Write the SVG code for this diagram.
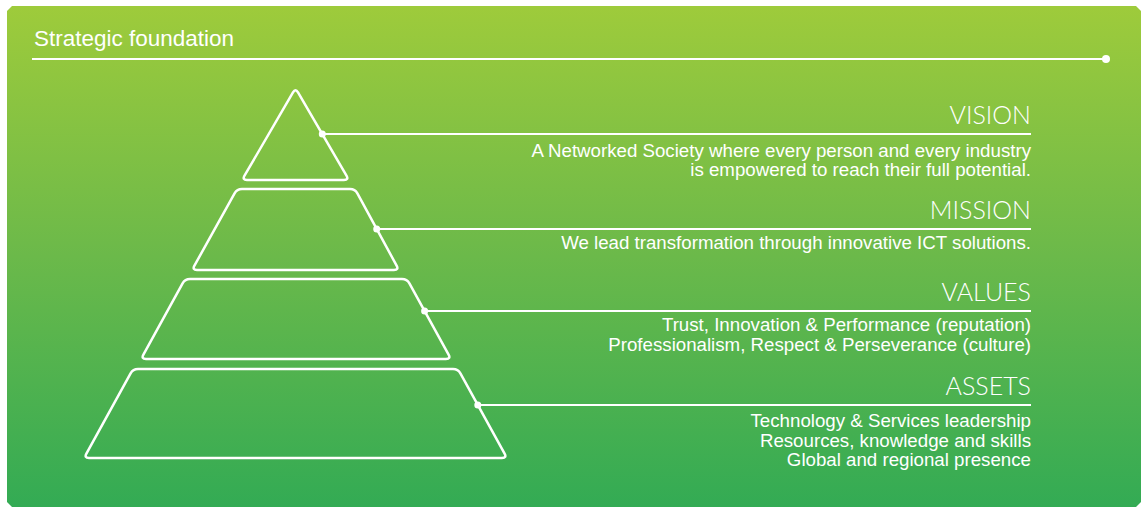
<svg xmlns="http://www.w3.org/2000/svg" width="1143" height="509" viewBox="0 0 1143 509">
  <defs>
    <linearGradient id="bg" x1="0" y1="0" x2="0" y2="1">
      <stop offset="0" stop-color="#9ecb3b"/>
      <stop offset="0.5" stop-color="#6bb94a"/>
      <stop offset="1" stop-color="#33ab54"/>
    </linearGradient>
    <style>
      .shape { fill: none; stroke: #ffffff; stroke-width: 2.5; stroke-linejoin: round; }
      .conn { stroke: #ffffff; stroke-width: 2; fill: none; }
      .dot { fill: #ffffff; }
      .title { font-family: "Liberation Sans", Arial, sans-serif; font-size: 22.5px; fill: #ffffff; }
      .head { font-family: Lato, "Open Sans", sans-serif; font-weight: 300; font-size: 25px; fill: #ffffff; text-anchor: end; }
      .body { font-family: "Liberation Sans", Arial, sans-serif; font-size: 18.7px; fill: #ffffff; text-anchor: end; }
    </style>
  </defs>

  <polygon id="background" points="12,6 1136,6 1141,11 1141,502 1136,507 12,507 7,502 7,11" fill="url(#bg)"/>

  <g id="title">
    <text class="title" x="34" y="46">Strategic foundation</text>
    <line class="conn" x1="32" y1="59" x2="1106" y2="59"/>
    <circle class="dot" cx="1106" cy="59" r="4"/>
  </g>

  <g id="vision">
    <path class="shape" d="M298.01,92.32 L346.49,175.68 Q349,180 344,180 L247,180 Q242,180 244.51,175.68 L292.99,92.32 Q295.5,88 298.01,92.32 Z"/>
    <text class="head" x="1031" y="124">VISION</text>
    <text class="body" x="1031" y="157">A Networked Society where every person and every industry</text>
    <text class="body" x="1031" y="176">is empowered to reach their full potential.</text>
  </g>

  <g id="mission">
    <path class="shape" d="M242,189 L350,189 Q355,189 357.39,193.39 L396.61,265.61 Q399,270 394,270 L197,270 Q192,270 194.43,265.63 L234.57,193.37 Q237,189 242,189 Z"/>
    <text class="head" x="1031" y="219">MISSION</text>
    <text class="body" x="1031" y="249">We lead transformation through innovative ICT solutions.</text>
  </g>

  <g id="values">
    <path class="shape" d="M190,279 L402,279 Q407,279 409.41,283.38 L448.59,354.62 Q451,359 446,359 L146,359 Q141,359 143.41,354.62 L182.59,283.38 Q185,279 190,279 Z"/>
    <text class="head" x="1031" y="301">VALUES</text>
    <text class="body" x="1031" y="331">Trust, Innovation &amp; Performance (reputation)</text>
    <text class="body" x="1031" y="351">Professionalism, Respect &amp; Perseverance (culture)</text>
  </g>

  <g id="assets">
    <path class="shape" d="M138,369 L453,369 Q458,369 460.41,373.38 L504.59,453.62 Q507,458 502,458 L89,458 Q84,458 86.41,453.62 L130.59,373.38 Q133,369 138,369 Z"/>
    <text class="head" x="1031" y="395">ASSETS</text>
    <text class="body" x="1031" y="427">Technology &amp; Services leadership</text>
    <text class="body" x="1031" y="447">Resources, knowledge and skills</text>
    <text class="body" x="1031" y="466">Global and regional presence</text>
  </g>

  <g id="connectors">
    <line class="conn" x1="322.3" y1="134" x2="1031" y2="134"/>
    <circle class="dot" cx="322.3" cy="134" r="3.5"/>
    <line class="conn" x1="376.7" y1="229" x2="1031" y2="229"/>
    <circle class="dot" cx="376.7" cy="229" r="3.5"/>
    <line class="conn" x1="424.6" y1="311" x2="1031" y2="311"/>
    <circle class="dot" cx="424.6" cy="311" r="3.5"/>
    <line class="conn" x1="477.8" y1="405" x2="1031" y2="405"/>
    <circle class="dot" cx="477.8" cy="405" r="3.5"/>
  </g>
</svg>
